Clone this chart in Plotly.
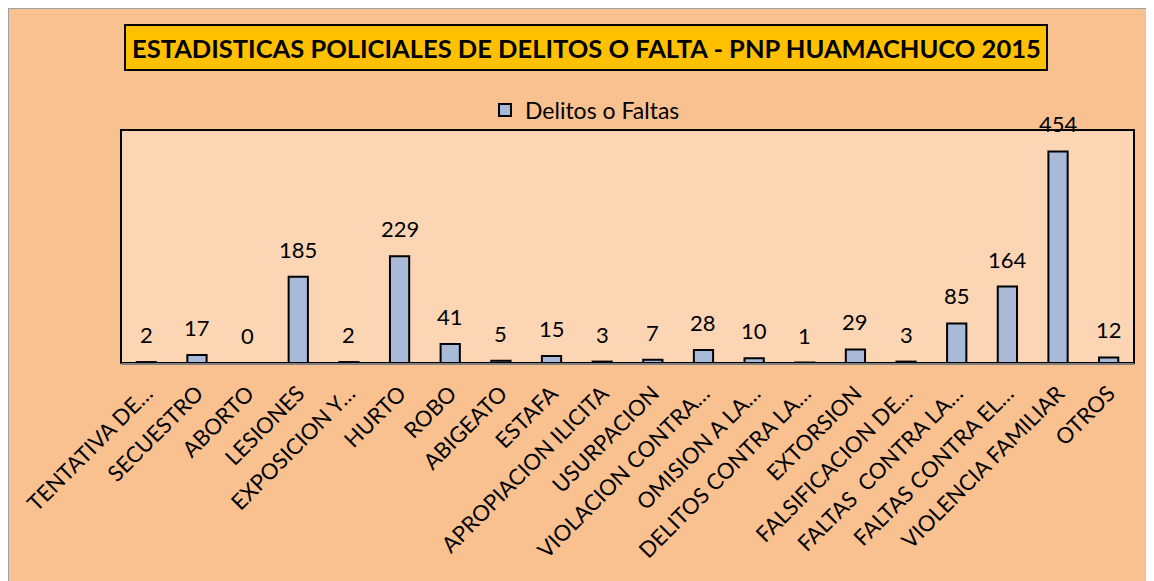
import plotly.graph_objects as go

categories = ["TENTATIVA DE…", "SECUESTRO", "ABORTO", "LESIONES", "EXPOSICION Y…",
              "HURTO", "ROBO", "ABIGEATO", "ESTAFA", "APROPIACION ILICITA",
              "USURPACION", "VIOLACION CONTRA…", "OMISION A LA…", "DELITOS CONTRA LA…",
              "EXTORSION", "FALSIFICACION DE…", "FALTAS  CONTRA LA…", "FALTAS CONTRA EL…",
              "VIOLENCIA FAMILIAR", "OTROS"]
values = [2, 17, 0, 185, 2, 229, 41, 5, 15, 3, 7, 28, 10, 1, 29, 3, 85, 164, 454, 12]
series_name = "Delitos o Faltas"
title_text = "ESTADISTICAS POLICIALES DE DELITOS O FALTA - PNP HUAMACHUCO 2015"

# page body has an 8px margin: figure coords = screen coords - 8
OFF = 8
W, H = 1154 - OFF, 581 - OFF
L, R, T, B = 121 - OFF, 1134 - OFF, 130 - OFF, 363 - OFF
pw, ph = R - L, B - T

def px(x):
    return (x - OFF - L) / pw

def py(y):
    return (B - (y - OFF)) / ph

FONT = "Lato"

fig = go.Figure()
fig.add_trace(go.Bar(
    x=categories, y=values, name=series_name,
    marker=dict(color="#A9B9D8", line=dict(color="black", width=2)),
    cliponaxis=False,
))

label_annotations = [
    dict(x=c, y=v, xref="x", yref="y", text=str(v), showarrow=False,
         xanchor="center", yanchor="bottom", yshift=12,
         font=dict(family=FONT, size=22, color="black"))
    for c, v in zip(categories, values)
]

shapes = [
    dict(type="rect", xref="paper", yref="paper", layer="below",
         x0=0, x1=1, y0=0, y1=1,
         fillcolor="#FCD5B4", line=dict(color="black", width=2)),
    dict(type="line", xref="paper", yref="paper", layer="below",
         x0=px(8), x1=px(1160), y0=py(8), y1=py(8),
         line=dict(color="#a0a0a0", width=2)),
    dict(type="line", xref="paper", yref="paper", layer="below",
         x0=px(8), x1=px(8), y0=py(8), y1=py(590),
         line=dict(color="#a0a0a0", width=2)),
    dict(type="rect", xref="paper", yref="paper", layer="above",
         x0=px(125), x1=px(1047), y0=py(70), y1=py(25),
         fillcolor="#FFC000", line=dict(color="black", width=2)),
]

fig.update_layout(
    width=W, height=H,
    margin=dict(l=L, r=W - R, t=T, b=H - B),
    paper_bgcolor="#F9C090",
    plot_bgcolor="rgba(0,0,0,0)",
    bargap=0.62,
    showlegend=True,
    legend=dict(orientation="h", x=px(585), xanchor="center", y=py(110), yanchor="middle",
                font=dict(family=FONT, size=23, color="black"), bgcolor="rgba(0,0,0,0)"),
    shapes=shapes,
    annotations=label_annotations + [
        dict(text="<b>" + title_text + "</b>", xref="paper", yref="paper",
             x=px(586), y=py(47.5), xanchor="center", yanchor="middle",
             showarrow=False, font=dict(family=FONT, size=25.5, color="black"))],
    xaxis=dict(tickangle=-45, tickfont=dict(family=FONT, size=22, color="black"),
               showline=True, linecolor="#808080", linewidth=2, ticks="",
               ticklabelstandoff=7,
               showgrid=False, automargin=False),
    yaxis=dict(range=[0, 500], visible=False, showgrid=False),
)

fig.write_html(
    "out.html",
    post_script="document.documentElement.style.overflow='hidden';document.body.style.overflow='hidden';",
)
